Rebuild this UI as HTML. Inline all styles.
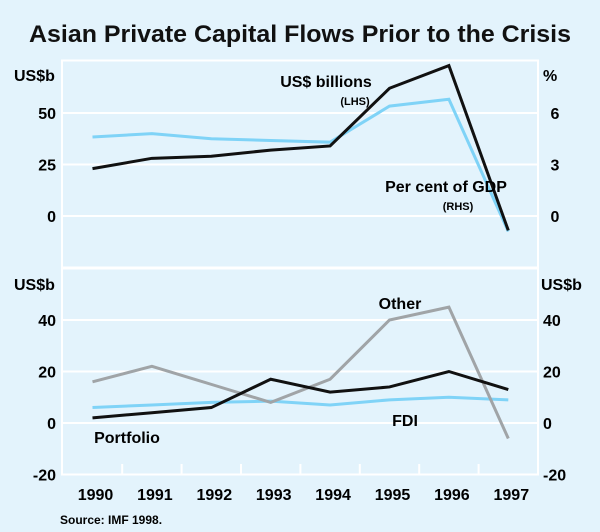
<!DOCTYPE html>
<html><head><meta charset="utf-8"><style>
body{margin:0;background:#e3f3fc;}
svg{display:block;font-family:"Liberation Sans",Arial,sans-serif;font-weight:bold;}
</style></head><body>
<svg width="600" height="532">
<rect width="600" height="532" fill="#e3f3fc"/>
<text x="300" y="42" text-anchor="middle" font-size="24" textLength="542" lengthAdjust="spacingAndGlyphs" fill="#111">Asian Private Capital Flows Prior to the Crisis</text>
<g id="grid"></g>
<g id="axes"></g>
<g id="series"></g>
<text x="14" y="81" font-size="16">US$b</text>
<text x="543" y="81" font-size="16">%</text>
<text x="14" y="290" font-size="16">US$b</text>
<text x="541" y="290" font-size="16">US$b</text>
<text x="326" y="87" text-anchor="middle" font-size="16">US$ billions</text>
<text x="355" y="105" text-anchor="middle" font-size="11">(LHS)</text>
<text x="446" y="192" text-anchor="middle" font-size="16">Per cent of GDP</text>
<text x="458" y="210" text-anchor="middle" font-size="11">(RHS)</text>
<text x="400" y="309" text-anchor="middle" font-size="16">Other</text>
<text x="405" y="426" text-anchor="middle" font-size="16">FDI</text>
<text x="127" y="443" text-anchor="middle" font-size="16">Portfolio</text>
<text x="60" y="524" font-size="12">Source: IMF 1998.</text>
</svg>
<script>
const years=[1990,1991,1992,1993,1994,1995,1996,1997];
const usdBillions=[23,28,29,32,34,62,73,-7];
const pctGDP=[4.6,4.8,4.5,4.4,4.3,6.4,6.8,-0.9];
const portfolio=[2,4,6,17,12,14,20,13];
const fdi=[6,7,8,8.5,7,9,10,9];
const other=[16,22,15,8,17,40,45,-6];
const topTicksL=[0,25,50];
const topTicksR=[0,3,6];
const botTicks=[-20,0,20,40];

const NS="http://www.w3.org/2000/svg";
const L=62,R=538;
const x=i=>92.5+i*59.4;
const yTop=v=>216-v*51.5/25;
const yPct=v=>216-v*51.5/3;
const yBot=v=>423-v*51.5/20;
function mk(t,a,p){const e=document.createElementNS(NS,t);for(const k in a)e.setAttribute(k,a[k]);document.getElementById(p).appendChild(e);return e;}
let e;
e=mk('rect',{x:L,y:60.5,width:R-L,height:207,fill:'none',stroke:'#fff','stroke-width':2},'grid');


e=mk('rect',{x:L,y:268.5,width:R-L,height:206,fill:'none',stroke:'#fff','stroke-width':2},'grid');


topTicksL.forEach((v,i)=>{
 e=mk('line',{x1:L,x2:R,y1:yTop(v),y2:yTop(v),stroke:'#fff','stroke-width':2},'grid');
 
 
 e=mk('text',{x:56,y:yTop(v)+6,'text-anchor':'end','font-size':16},'axes');e.textContent=v;
 
 
 e=mk('text',{x:555,y:yPct(topTicksR[i])+6,'text-anchor':'middle','font-size':16},'axes');e.textContent=topTicksR[i];
 
 
});
botTicks.forEach(v=>{
 e=mk('line',{x1:L,x2:R,y1:yBot(v),y2:yBot(v),stroke:'#fff','stroke-width':2},'grid');
 
 
 e=mk('text',{x:56,y:yBot(v)+6,'text-anchor':'end','font-size':16},'axes');e.textContent=v;
 
 
 e=mk('text',{x:543,y:yBot(v)+6,'font-size':16},'axes');e.textContent=v;
 
 
});
years.forEach((yr,i)=>{
 if(i>0){e=mk('line',{x1:x(i)-29.7,x2:x(i)-29.7,y1:474.5,y2:464,stroke:'#fff','stroke-width':2},'grid');
 
 }
 e=mk('text',{x:x(i)+3,y:500,'text-anchor':'middle','font-size':16},'axes');e.textContent=yr;
 
 
});
function line(vals,f,col,name){
 const p=mk('polyline',{points:vals.map((v,i)=>x(i)+','+f(v)).join(' '),fill:'none',stroke:col,'stroke-width':3,'stroke-linejoin':'miter'},'series');
 
 
}
line(pctGDP,yPct,'#7fd3f7','pct-gdp-line');
line(usdBillions,yTop,'#111','usd-billions-line');
line(fdi,yBot,'#7fd3f7','fdi-line');
line(other,yBot,'#a0a4a7','other-line');
line(portfolio,yBot,'#111','portfolio-line');
</script>
</body></html>
